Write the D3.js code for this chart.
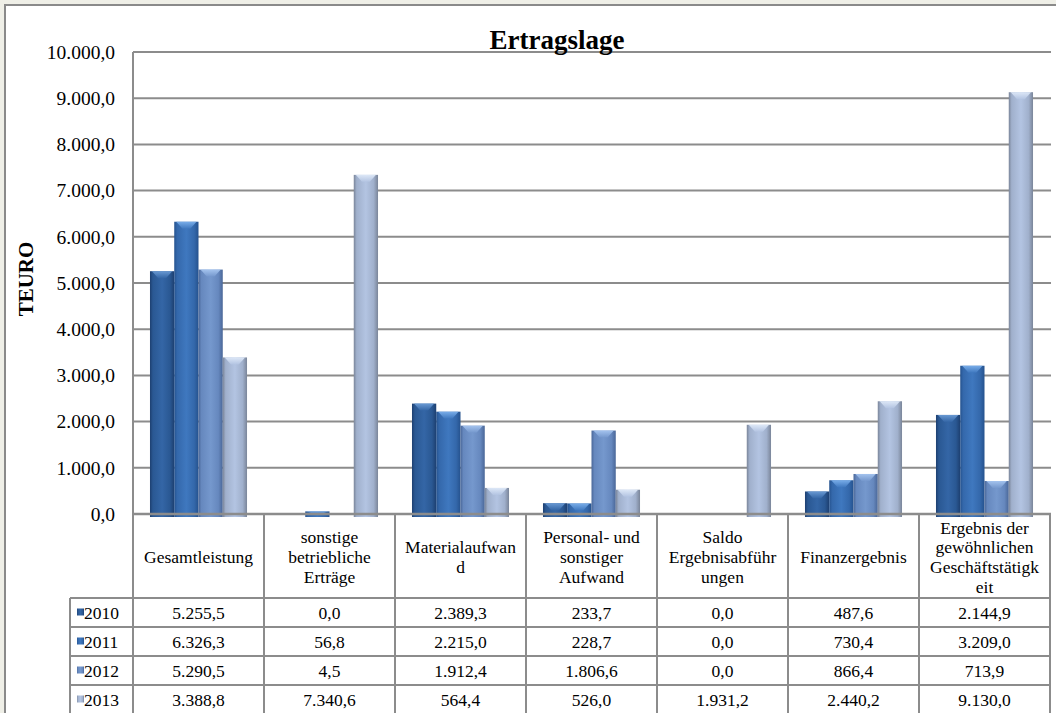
<!DOCTYPE html>
<html>
<head>
<meta charset="utf-8">
<script src="https://cdn.jsdelivr.net/npm/d3@7"></script>
<style>
  html, body { margin: 0; padding: 0; background: #efefe7; }
  svg { display: block; }
</style>
</head>
<body>
<svg id="chart" width="1056" height="713"></svg>
<script>
// Ertragslage 2010–2013 (TEURO)
const categories = [
  "Gesamtleistung",
  "sonstige betriebliche Erträge",
  "Materialaufwand",
  "Personal- und sonstiger Aufwand",
  "Saldo Ergebnisabführungen",
  "Finanzergebnis",
  "Ergebnis der gewöhnlichen Geschäftstätigkeit"
];
// header lines as wrapped in the data table
const categoryLines = [
  ["Gesamtleistung"],
  ["sonstige", "betriebliche", "Erträge"],
  ["Materialaufwan", "d"],
  ["Personal- und", "sonstiger", "Aufwand"],
  ["Saldo", "Ergebnisabführ", "ungen"],
  ["Finanzergebnis"],
  ["Ergebnis der", "gewöhnlichen", "Geschäftstätigk", "eit"]
];
const years = ["2010", "2011", "2012", "2013"];
const values2010 = [5255.5, 0.0, 2389.3, 233.7, 0.0, 487.6, 2144.9];
const values2011 = [6326.3, 56.8, 2215.0, 228.7, 0.0, 730.4, 3209.0];
const values2012 = [5290.5, 4.5, 1912.4, 1806.6, 0.0, 866.4, 713.9];
const values2013 = [3388.8, 7340.6, 564.4, 526.0, 1931.2, 2440.2, 9130.0];
const yTicks = [0, 1000, 2000, 3000, 4000, 5000, 6000, 7000, 8000, 9000, 10000];

const series = [values2010, values2011, values2012, values2013];

// bar shading per year: [edge, mid, light, cap]
const palette = [
  ["#1d3f70", "#2a5893", "#3466a6", "#6f9fd8"],
  ["#25528e", "#3468ab", "#3f78bf", "#7fb3ee"],
  ["#4a6798", "#6688be", "#7598cd", "#a9c8f2"],
  ["#7a8599", "#a0b0cc", "#b3c4e2", "#e2ecfa"]
];

const FONT = '"Liberation Serif", "Times New Roman", Tinos, serif';
const de = d3.formatLocale({ decimal: ",", thousands: ".", grouping: [3], currency: ["", " €"] });
const fmt = de.format(",.1f");

const svg = d3.select("#chart").style("font-family", FONT);
const plotLeft = 133, plotRight = 1050, plotTop = 52, zeroY = 514;
const headerBottom = 598, rowH = 29, legendLeft = 70;

// chart frame
svg.append("rect").attr("x", 5).attr("y", 5).attr("width", 1200).attr("height", 900)
  .attr("fill", "#fff").attr("stroke", "#8a8a8a").attr("stroke-width", 2);

const x = d3.scaleBand().domain(categories).range([plotLeft, plotRight]).paddingInner(0).paddingOuter(0);
const xs = d3.scaleBand().domain(years).range([0, x.bandwidth()]).paddingInner(0).paddingOuter(0.7);
const y = d3.scaleLinear().domain([0, 10000]).range([zeroY, plotTop]);

// gradients
const defs = svg.append("defs");
palette.forEach((c, i) => {
  const g = defs.append("linearGradient").attr("id", "bar" + i).attr("x1", 0).attr("x2", 1).attr("y1", 0).attr("y2", 0);
  [[0, c[0]], [0.12, c[1]], [0.5, c[2]], [0.82, c[1]], [1, c[0]]].forEach(([o, col]) =>
    g.append("stop").attr("offset", o).attr("stop-color", col));
  const cap = defs.append("linearGradient").attr("id", "cap" + i).attr("x1", 0).attr("x2", 0).attr("y1", 0).attr("y2", 1);
  cap.append("stop").attr("offset", 0).attr("stop-color", c[3]);
  cap.append("stop").attr("offset", 1).attr("stop-color", c[2]);
});

// gridlines
svg.append("g").selectAll("line").data(yTicks.filter(d => d > 0)).join("line")
  .attr("x1", plotLeft).attr("x2", plotRight + 1)
  .attr("y1", d => y(d)).attr("y2", d => y(d))
  .attr("stroke", "#8c8c8c").attr("stroke-width", 2);

// y axis labels
const yAxis = d3.axisLeft(y).tickValues(yTicks).tickFormat(fmt).tickSize(0).tickPadding(18);
const ya = svg.append("g").attr("transform", `translate(${plotLeft},0)`).call(yAxis)
  .attr("font-family", null).attr("font-size", null);
ya.select(".domain").remove();
ya.selectAll("text").style("font-family", FONT).style("font-size", "19.5px").attr("fill", "#000");

// title & axis title
svg.append("text").attr("x", 557).attr("y", 49).attr("text-anchor", "middle")
  .style("font-family", FONT).style("font-size", "27px").style("font-weight", "bold").text("Ertragslage");
svg.append("text").attr("transform", "translate(33,279) rotate(-90)").attr("text-anchor", "middle")
  .style("font-family", FONT).style("font-size", "21px").style("font-weight", "bold").text("TEURO");

// bars
const base = 3;
series.forEach((vals, si) => {
  const g = svg.append("g");
  const items = vals.map((v, ci) => ({ v, c: categories[ci] })).filter(d => y(0) - y(d.v) >= 1);
  const bar = g.selectAll("g").data(items).join("g")
    .attr("transform", d => `translate(${x(d.c) + xs(years[si])},0)`);
  bar.append("rect")
    .attr("x", 0).attr("y", d => y(d.v))
    .attr("width", xs.bandwidth()).attr("height", d => y(0) - y(d.v) + base)
    .attr("fill", `url(#bar${si})`);
  bar.append("path")
    .attr("d", d => {
      const w = xs.bandwidth(), t = y(d.v), h = Math.min(7, y(0) - y(d.v));
      return `M2,${t}L${w - 2},${t}L${w * 0.66},${t + h}L${w * 0.34},${t + h}Z`;
    })
    .attr("fill", `url(#cap${si})`).attr("opacity", 0.9);
});

// data table
const tbl = svg.append("g").style("font-family", FONT).style("font-size", "17.5px");
const lineCol = "#8c8c8c";
const tableBottom = headerBottom + rowH * years.length;
// horizontal lines
tbl.append("line").attr("x1", plotLeft).attr("x2", plotRight + 1).attr("y1", zeroY).attr("y2", zeroY)
  .attr("stroke", lineCol).attr("stroke-width", 2.5);
tbl.selectAll("line.h").data(d3.range(years.length + 1)).join("line").attr("class", "h")
  .attr("x1", legendLeft).attr("x2", plotRight)
  .attr("y1", i => headerBottom + i * rowH).attr("y2", i => headerBottom + i * rowH)
  .attr("stroke", lineCol).attr("stroke-width", 2);
// vertical lines
tbl.selectAll("line.v").data(categories.map(c => x(c)).concat([plotRight])).join("line").attr("class", "v")
  .attr("x1", d => d).attr("x2", d => d).attr("y1", (d, i) => i === 0 ? plotTop : zeroY).attr("y2", tableBottom)
  .attr("stroke", lineCol).attr("stroke-width", 2);
tbl.append("line").attr("x1", legendLeft).attr("x2", legendLeft).attr("y1", headerBottom).attr("y2", tableBottom)
  .attr("stroke", lineCol).attr("stroke-width", 2);

// header text
const lh = 19.7;
categories.forEach((c, ci) => {
  const lines = categoryLines[ci];
  const cy = (zeroY + headerBottom) / 2 + 1;
  const t = tbl.append("text").attr("text-anchor", "middle");
  lines.forEach((ln, li) => {
    t.append("tspan").attr("x", x(c) + x.bandwidth() / 2)
      .attr("y", cy + (li - (lines.length - 1) / 2) * lh).attr("dy", "0.35em").text(ln);
  });
});

// legend keys + values
years.forEach((yr, si) => {
  const ry = headerBottom + si * rowH + rowH / 2;
  tbl.append("rect").attr("x", 77).attr("y", ry - 4).attr("width", 7).attr("height", 7)
    .attr("fill", `url(#bar${si})`);
  tbl.append("text").attr("x", 84).attr("y", ry).attr("dy", "0.35em").text(yr);
  series[si].forEach((v, ci) => {
    tbl.append("text").attr("x", x(categories[ci]) + x.bandwidth() / 2).attr("y", ry)
      .attr("dy", "0.35em").attr("text-anchor", "middle").text(fmt(v));
  });
});
</script>
</body>
</html>
